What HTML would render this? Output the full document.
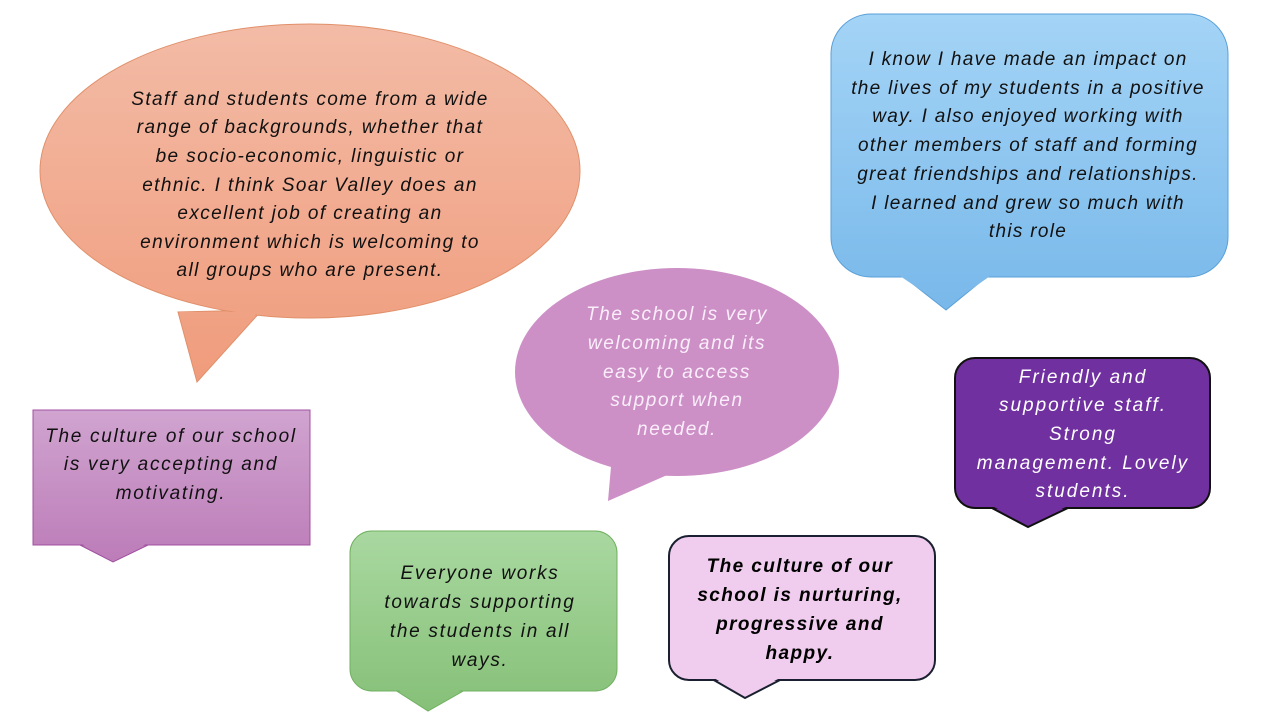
<!DOCTYPE html>
<html><head><meta charset="utf-8"><style>
html,body{margin:0;padding:0;background:#fff;}
svg{display:block;}
text{font-family:"Liberation Sans",sans-serif;font-style:italic;font-size:19px;text-anchor:middle;}
</style></head><body>
<svg width="1280" height="720" viewBox="0 0 1280 720">
<defs>
<linearGradient id="go" gradientUnits="userSpaceOnUse" x1="0" y1="25" x2="0" y2="380"><stop offset="0" stop-color="#f3bba6"/><stop offset="1" stop-color="#f09c7c"/></linearGradient>
<linearGradient id="gb" gradientUnits="userSpaceOnUse" x1="0" y1="14" x2="0" y2="310"><stop offset="0" stop-color="#a4d4f6"/><stop offset="1" stop-color="#78b8ea"/></linearGradient>
<linearGradient id="gp" gradientUnits="userSpaceOnUse" x1="0" y1="410" x2="0" y2="562"><stop offset="0" stop-color="#d0a4d0"/><stop offset="1" stop-color="#bc7cb8"/></linearGradient>
<linearGradient id="gg" gradientUnits="userSpaceOnUse" x1="0" y1="531" x2="0" y2="711"><stop offset="0" stop-color="#a9d8a0"/><stop offset="1" stop-color="#86c078"/></linearGradient>
</defs>

<!-- orange -->
<polygon points="178,312 197,382 262,310" fill="url(#go)" stroke="#e0906a"/>
<ellipse cx="310" cy="171" rx="270" ry="147" fill="url(#go)" stroke="#e0906a"/>
<polygon points="180,312 198,379 258,312" fill="url(#go)"/>
<g fill="#111" style="letter-spacing:1.4px">
<text x="310" y="105">Staff and students come from a wide</text>
<text x="310" y="133">range of backgrounds,  whether that</text>
<text x="310" y="162">be socio-economic, linguistic or</text>
<text x="310" y="191">ethnic. I think Soar Valley does an</text>
<text x="310" y="219">excellent job of creating an</text>
<text x="310" y="248">environment which is welcoming to</text>
<text x="310" y="276">all groups who are present.</text>
</g>

<!-- blue -->
<polygon points="895,270 946,310 995,270" fill="url(#gb)" stroke="#5aa0d8"/>
<rect x="831" y="14" width="397" height="263" rx="40" fill="url(#gb)" stroke="#5aa0d8"/>
<polygon points="897,274 946,307 993,274" fill="url(#gb)"/>
<g fill="#111" style="letter-spacing:1.3px">
<text x="1028" y="65">I know I have made an impact on</text>
<text x="1028" y="94">the lives of my students in a positive</text>
<text x="1028" y="122">way. I also enjoyed working with</text>
<text x="1028" y="151">other members of staff and forming</text>
<text x="1028" y="180">great friendships and relationships.</text>
<text x="1028" y="209">I learned and grew so much with</text>
<text x="1028" y="237">this role</text>
</g>

<!-- pink ellipse -->
<polygon points="612,455 608,501 690,465" fill="#cc90c6"/>
<ellipse cx="677" cy="372" rx="162" ry="104" fill="#cc90c6"/>
<g fill="#fbeefb" style="letter-spacing:1.6px">
<text x="677" y="320">The school is very</text>
<text x="677" y="349">welcoming and its</text>
<text x="677" y="378">easy to access</text>
<text x="677" y="406">support when</text>
<text x="677" y="435">needed.</text>
</g>

<!-- purple rect -->
<polygon points="80,545 113,562 148,545" fill="url(#gp)" stroke="#a050a0"/>
<rect x="33" y="410" width="277" height="135" fill="url(#gp)" stroke="#a050a0"/>
<polygon points="82,544 113,560 146,544" fill="url(#gp)"/>
<g fill="#111" style="font-size:20px;letter-spacing:1.7px">
<text x="171" y="442">The culture of our school</text>
<text x="171" y="470">is very accepting and</text>
<text x="171" y="499">motivating.</text>
</g>

<!-- green -->
<polygon points="395,690 428,711 465,690" fill="url(#gg)" stroke="#70b060"/>
<rect x="350" y="531" width="267" height="160" rx="22" fill="url(#gg)" stroke="#70b060"/>
<polygon points="397,689 428,709 463,689" fill="url(#gg)"/>
<g fill="#111" style="font-size:20px;letter-spacing:1.7px">
<text x="480" y="579">Everyone works</text>
<text x="480" y="608">towards supporting</text>
<text x="480" y="637">the students in all</text>
<text x="480" y="666">ways.</text>
</g>

<!-- light pink -->
<polygon points="712,679 745,698 782,679" fill="#f0cdee" stroke="#1a2030" stroke-width="2"/>
<rect x="669" y="536" width="266" height="144" rx="20" fill="#f0cdee" stroke="#1a2030" stroke-width="2"/>
<polygon points="714,678 745,696 780,678" fill="#f0cdee"/>
<g fill="#000" style="font-size:20px;font-weight:bold;letter-spacing:1.4px">
<text x="800" y="572">The culture of our</text>
<text x="800" y="601">school is nurturing,</text>
<text x="800" y="630">progressive and</text>
<text x="800" y="659">happy.</text>
</g>

<!-- dark purple -->
<polygon points="990,507 1028,527 1070,507" fill="#7030a0" stroke="#111" stroke-width="2"/>
<rect x="955" y="358" width="255" height="150" rx="20" fill="#7030a0" stroke="#111" stroke-width="2"/>
<polygon points="992,506 1028,524 1068,506" fill="#7030a0"/>
<g fill="#fff" style="font-size:20px;letter-spacing:2px">
<text x="1083" y="383">Friendly and</text>
<text x="1083" y="411">supportive staff.</text>
<text x="1083" y="440">Strong</text>
<text x="1083" y="469">management.  Lovely</text>
<text x="1083" y="497">students.</text>
</g>
</svg>
</body></html>
